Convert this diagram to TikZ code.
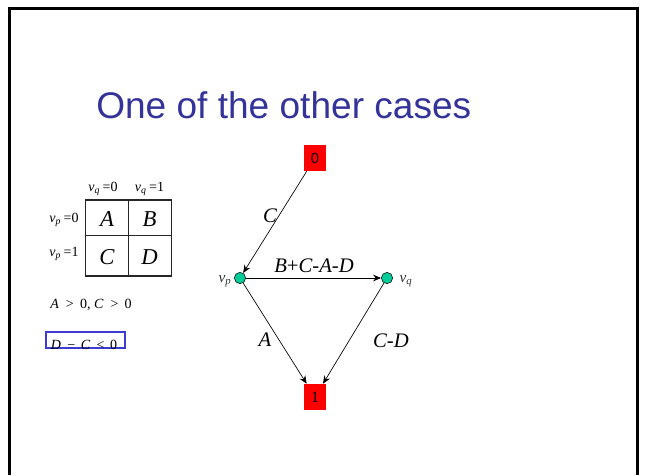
\documentclass[tikz,border=0pt]{standalone}
\usepackage{fontspec}
\setmainfont{Liberation Serif}
\setsansfont{Liberation Sans}
\usetikzlibrary{arrows.meta}
\definecolor{titleblue}{RGB}{51,51,153}
\definecolor{nodegreen}{RGB}{0,204,153}
\definecolor{boxblue}{RGB}{60,60,210}
\tikzset{
  endbox/.style={fill=red, minimum width=16.5pt, minimum height=19.5pt, inner sep=0pt},
  vertex/.style={circle, draw=black, fill=nodegreen, minimum size=8.5pt, inner sep=0pt},
  cost/.style={font=\fontsize{15.5}{15.5}\selectfont\itshape},
  small/.style={font=\fontsize{10.5}{10.5}\selectfont},
  cell/.style={font=\fontsize{17}{17}\selectfont\itshape},
  arc/.style={-{Stealth[length=6pt,width=5pt,inset=2pt]}, line width=0.5pt}
}
\newcommand{\vsub}[2]{\textit{v}\textsubscript{\textit{#1}}\,=#2}

\begin{document}
\begin{tikzpicture}[x=0.75pt,y=-0.75pt]
  \useasboundingbox (0,0) rectangle (646,475);

  % slide frame, open at the bottom
  \draw[line width=2.25pt] (9.5,475) -- (9.5,8.5) -- (637.5,8.5) -- (637.5,475);

  % title
  \node[anchor=base west, inner sep=0pt, text=titleblue,
        font=\sffamily\fontsize{27.8}{30}\selectfont] (title) at (96,118) {One of the other cases};

  % the 2x2 table of costs
  \draw[line width=0.9pt, black!85] (85.7,200) rectangle (171.7,276);
  \draw[line width=0.9pt, black!85] (128.3,200) -- (128.3,276);
  \draw[line width=0.9pt, black!85] (85.7,235.7) -- (171.7,235.7);
  \node[cell] (cA) at (107,219) {A};
  \node[cell] (cB) at (149.5,219) {B};
  \node[cell] (cC) at (107,257) {C};
  \node[cell] (cD) at (149.5,257) {D};
  \node[small] (q0) at (103,189) {\vsub{q}{0}};
  \node[small] (q1) at (149.5,189) {\vsub{q}{1}};
  \node[small] (p0) at (64,220) {\vsub{p}{0}};
  \node[small] (p1) at (64,254) {\vsub{p}{1}};

  % conditions
  \node[small] (cond) at (91,305) {\textit{A}\hspace{0.5em}>\hspace{0.45em}0,\hspace{0.25em}\textit{C}\hspace{0.5em}>\hspace{0.45em}0};
  \draw[boxblue, line width=0.9pt] (46,332) rectangle (125,348);
  \node[small] (bad) at (84,345) {\textit{D}\hspace{0.45em}−\hspace{0.4em}\textit{C}\hspace{0.45em}<\hspace{0.4em}0};

  % graph nodes
  \node[endbox, font=\sffamily\fontsize{11}{11}\selectfont] (zero) at (315,158) {0};
  \node[endbox, font=\fontsize{12}{12}\selectfont] (one) at (315,397) {1};
  \node[vertex] (vp) at (240,278) {};
  \node[vertex] (vq) at (387,278) {};
  \node[small, font=\fontsize{11.5}{11.5}\selectfont, text=black!80] (lp) at (225,281) {\textit{v}\textsubscript{\textit{p}}};
  \node[small, font=\fontsize{11.5}{11.5}\selectfont, text=black!80] (lq) at (406,281) {\textit{v}\textsubscript{\textit{q}}};

  % arcs
  \draw[arc] (zero) -- (vp);
  \draw[arc] (vp) -- (vq);
  \draw[arc] (vp) -- (one);
  \draw[arc] (vq) -- (one);

  % arc weights
  \node[cost] (wC) at (270,216) {C};
  \node[cost] (wmid) at (314,266) {B\textup{+}C-A-D};
  \node[cost] (wA) at (265,340) {A};
  \node[cost] (wCD) at (391,341) {C-D};
\end{tikzpicture}
\end{document}
